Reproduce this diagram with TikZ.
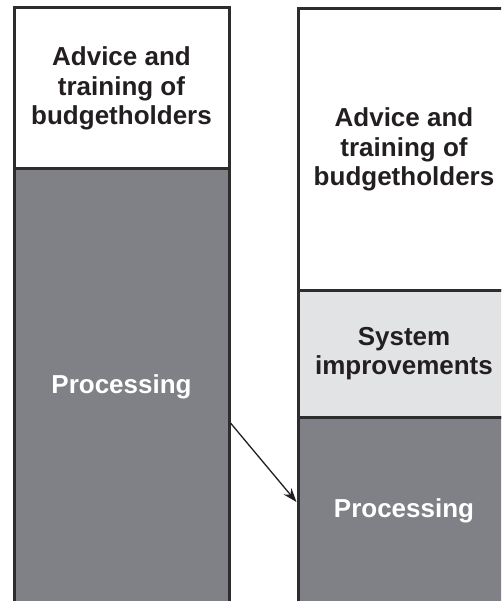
\documentclass[tikz,border=0pt]{standalone}
\usepackage{fontspec}
\setmainfont{Liberation Sans}
\usetikzlibrary{arrows.meta}
\definecolor{darkfill}{RGB}{128,129,134}
\definecolor{lightfill}{RGB}{226,227,229}
\definecolor{edge}{RGB}{45,45,45}
\definecolor{ink}{RGB}{35,31,32}
\begin{document}
\begin{tikzpicture}[x=1pt,y=-1pt,
  block/.style={draw=edge,line width=3pt,inner sep=0pt,align=center,
    font=\fontsize{26}{29.5}\selectfont\bfseries},
  whiteblock/.style={block,fill=white,text=ink},
  lightblock/.style={block,fill=lightfill,text=ink},
  darkblock/.style={block,fill=darkfill,text=white},
  conn/.style={line width=1.3pt,draw=ink,-{Stealth[length=14pt,width=10pt]}}]
\useasboundingbox (0,0) rectangle (501,601);
\clip (0,0) rectangle (501,601);
% left column
\node[whiteblock,minimum width=215pt,minimum height=161pt] (lt) at (121.5,88.5)
  {Advice and\\training of\\budgetholders};
\node[darkblock,minimum width=215pt,minimum height=436pt] (lp) at (121.5,387)
  {Processing};
% right column
\node[whiteblock,minimum width=212pt,minimum height=281pt] (rt) at (404,149.5)
  {Advice and\\training of\\budgetholders};
\node[lightblock,minimum width=212pt,minimum height=127pt] (rs) at (404,353.5)
  {System\\improvements};
\node[darkblock,minimum width=212pt,minimum height=188pt] (rp) at (404,511)
  {Processing};
% connector
\draw[conn] ([yshift=-36pt]lp.east) -- ([yshift=9pt]rp.west);
\end{tikzpicture}
\end{document}
